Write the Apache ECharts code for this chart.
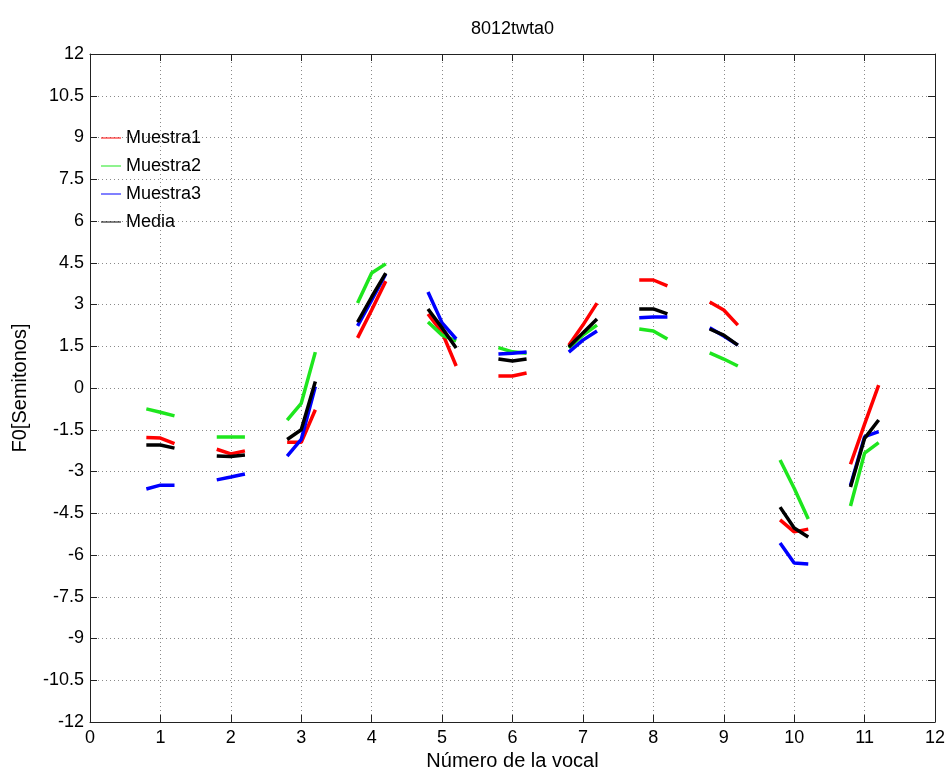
<!DOCTYPE html>
<html>
<head>
<meta charset="utf-8">
<script src="https://cdn.jsdelivr.net/npm/echarts@6/dist/echarts.min.js"></script>
<style>
html,body{margin:0;padding:0;background:#fff;}
#chart{width:947px;height:769px;}
</style>
</head>
<body>
<div id="chart"></div>
<script>
// ---- data ----
const vowels = [1, 2, 3, 4, 5, 6, 7, 8, 9, 10, 11];
const offsets = [-0.2, 0, 0.2];
const yTicks = [-12, -10.5, -9, -7.5, -6, -4.5, -3, -1.5, 0, 1.5, 3, 4.5, 6, 7.5, 9, 10.5, 12];
const seriesNames = ['Muestra1', 'Muestra2', 'Muestra3', 'Media'];
const muestra1 = [
  [-1.78, -1.80, -2.00],
  [-2.20, -2.37, -2.26],
  [-1.95, -1.95, -0.78],
  [1.80, 2.80, 3.84],
  [2.66, 2.00, 0.79],
  [0.43, 0.43, 0.54],
  [1.54, 2.26, 3.05],
  [3.88, 3.88, 3.67],
  [3.09, 2.80, 2.26],
  [-4.74, -5.17, -5.07],
  [-2.74, -1.30, 0.10]
];
const muestra2 = [
  [-0.75, -0.87, -1.00],
  [-1.76, -1.76, -1.76],
  [-1.15, -0.55, 1.29],
  [3.05, 4.13, 4.46],
  [2.37, 1.90, 1.69],
  [1.45, 1.30, 1.25],
  [1.44, 1.90, 2.26],
  [2.12, 2.05, 1.76],
  [1.26, 1.04, 0.79],
  [-2.59, -3.60, -4.71],
  [-4.24, -2.34, -1.96]
];
const muestra3 = [
  [-3.63, -3.49, -3.49],
  [-3.30, -3.20, -3.09],
  [-2.45, -1.85, 0.05],
  [2.23, 3.16, 4.10],
  [3.45, 2.34, 1.76],
  [1.22, 1.25, 1.29],
  [1.29, 1.72, 2.05],
  [2.52, 2.55, 2.55],
  [2.16, 1.87, 1.54],
  [-5.57, -6.29, -6.32],
  [-3.50, -1.75, -1.57]
];
const media = [
  [-2.05, -2.05, -2.16],
  [-2.44, -2.46, -2.41],
  [-1.85, -1.50, 0.23],
  [2.37, 3.27, 4.13],
  [2.84, 2.16, 1.44],
  [1.04, 0.97, 1.04],
  [1.47, 1.98, 2.48],
  [2.84, 2.84, 2.66],
  [2.12, 1.90, 1.54],
  [-4.28, -5.03, -5.35],
  [-3.56, -1.81, -1.15]
];
const colors = ['#ff0000', '#1ee61e', '#0000ff', '#000000'];

// ---- build ----
const allData = [muestra1, muestra2, muestra3, media];
const series = [];
allData.forEach(function (groups, si) {
  groups.forEach(function (vals, vi) {
    series.push({
      name: seriesNames[si],
      type: 'line',
      xAxisIndex: 0,
      yAxisIndex: 0,
      symbol: 'none',
      showSymbol: false,
      silent: true,
      animation: false,
      z: 2 + si,
      lineStyle: { color: colors[si], width: 3.5 },
      itemStyle: { color: colors[si] },
      data: vals.map(function (v, k) { return [vowels[vi] + offsets[k], v]; })
    });
  });
});

const font = 'Arial, "Liberation Sans", Helvetica, sans-serif';
const axisCol = '#222';
const chart = echarts.init(document.getElementById('chart'), null, { renderer: 'canvas' });
chart.setOption({
  backgroundColor: '#fff',
  animation: false,
  title: {
    text: '8012twta0',
    left: 471,
    top: 20,
    padding: 0,
    textStyle: { fontFamily: font, fontSize: 18, fontWeight: 'normal', color: '#000' }
  },
  legend: {
    orient: 'vertical',
    left: 101,
    top: 128,
    padding: 0,
    itemGap: 8,
    itemWidth: 20,
    itemHeight: 1,
    icon: 'rect',
    data: seriesNames.map(function (n, i) {
      return { name: n, itemStyle: { color: colors[i], borderWidth: 0 } };
    }),
    textStyle: { fontFamily: font, fontSize: 18, color: '#000', lineHeight: 20, padding: [0, 0, 0, 0] }
  },
  grid: { left: 90, right: 12, top: 54, bottom: 47, containLabel: false, outerBoundsMode: 'none' },
  xAxis: [{
    type: 'value', min: 0, max: 12, interval: 1,
    name: 'Número de la vocal', nameLocation: 'middle', nameGap: 28,
    nameTextStyle: { fontFamily: font, fontSize: 20, color: '#000' },
    axisLine: { show: true, onZero: false, lineStyle: { color: axisCol, width: 1 } },
    axisTick: { show: true, inside: true, length: 7, lineStyle: { color: axisCol } },
    axisLabel: { fontFamily: font, fontSize: 18, color: '#000', margin: 7 },
    splitLine: { show: true, lineStyle: { color: '#8a8a8a', type: [1, 3], width: 1 } }
  }, {
    type: 'value', min: 0, max: 12, interval: 1, position: 'top',
    axisLine: { show: true, onZero: false, lineStyle: { color: axisCol, width: 1 } },
    axisTick: { show: true, inside: true, length: 7, lineStyle: { color: axisCol } },
    axisLabel: { show: false },
    splitLine: { show: false }
  }],
  yAxis: [{
    type: 'value', min: -12, max: 12, interval: 1.5,
    name: 'F0[Semitonos]', nameLocation: 'middle', nameGap: 60, nameRotate: 90,
    nameTextStyle: { fontFamily: font, fontSize: 20, color: '#000' },
    axisLine: { show: true, onZero: false, lineStyle: { color: axisCol, width: 1 } },
    axisTick: { show: true, inside: true, length: 7, lineStyle: { color: axisCol } },
    axisLabel: {
      fontFamily: font, fontSize: 18, color: '#000', margin: 6,
      formatter: function (v) { return yTicks.indexOf(v) >= 0 ? String(v) : ''; }
    },
    splitLine: { show: true, lineStyle: { color: '#8a8a8a', type: [1, 3], width: 1 } }
  }, {
    type: 'value', min: -12, max: 12, interval: 1.5, position: 'right',
    axisLine: { show: true, onZero: false, lineStyle: { color: axisCol, width: 1 } },
    axisTick: { show: true, inside: true, length: 7, lineStyle: { color: axisCol } },
    axisLabel: { show: false },
    splitLine: { show: false }
  }],
  series: series
});
</script>
</body>
</html>
